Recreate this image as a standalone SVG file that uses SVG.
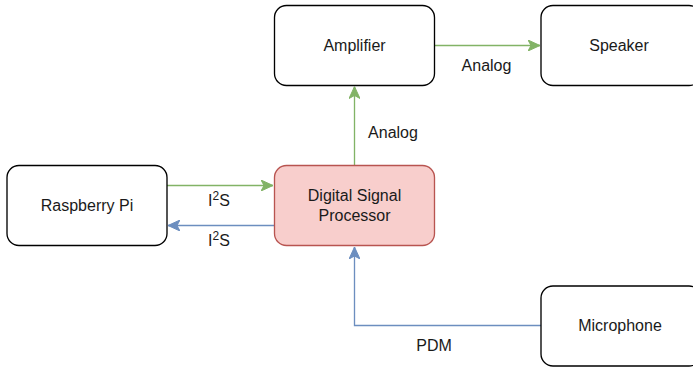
<svg xmlns="http://www.w3.org/2000/svg" width="693" height="367" viewBox="0 0 693 367">
  <style>
    .box { fill: #ffffff; stroke: #000000; stroke-width: 1.33; }
    .dsp { fill: #f8cecc; stroke: #b85450; stroke-width: 1.33; }
    .lbl { font-family: "Liberation Sans", Arial, sans-serif; font-size: 16px; fill: #1a1a1a; text-anchor: middle; }
    .g { fill: none; stroke: #82b366; stroke-width: 1.33; }
    .b { fill: none; stroke: #6c8ebf; stroke-width: 1.33; }
  </style>
  <defs>
    <marker id="ag" viewBox="0 0 12 11" refX="12" refY="5.5" markerWidth="12" markerHeight="11" markerUnits="userSpaceOnUse" orient="auto">
      <path d="M0,0 L12,5.5 L0,11 L3,5.5 Z" fill="#82b366" stroke="#82b366" stroke-width="1"/>
    </marker>
    <marker id="ab" viewBox="0 0 12 11" refX="12" refY="5.5" markerWidth="12" markerHeight="11" markerUnits="userSpaceOnUse" orient="auto">
      <path d="M0,0 L12,5.5 L0,11 L3,5.5 Z" fill="#6c8ebf" stroke="#6c8ebf" stroke-width="1"/>
    </marker>
  </defs>

  <g id="connectors">
    <line class="g" x1="167" y1="185.5" x2="273" y2="185.5" marker-end="url(#ag)"/>
    <line class="b" x1="274" y1="225.5" x2="168" y2="225.5" marker-end="url(#ab)"/>
    <line class="g" x1="354.5" y1="165.5" x2="354.5" y2="86.5" marker-end="url(#ag)"/>
    <line class="g" x1="434.5" y1="45.5" x2="540" y2="45.5" marker-end="url(#ag)"/>
    <polyline class="b" points="541,325.5 354.5,325.5 354.5,247" marker-end="url(#ab)"/>
    <text class="lbl" x="219" y="206">I<tspan font-size="12" dy="-6">2</tspan><tspan dy="6">S</tspan></text>
    <text class="lbl" x="219" y="246">I<tspan font-size="12" dy="-6">2</tspan><tspan dy="6">S</tspan></text>
    <text class="lbl" x="393" y="138">Analog</text>
    <text class="lbl" x="486.5" y="71">Analog</text>
    <text class="lbl" x="434" y="351">PDM</text>
  </g>

  <g id="raspberry-pi">
    <rect class="box" x="7" y="165.5" width="160" height="80" rx="12" ry="12"/>
    <text class="lbl" x="87" y="211">Raspberry Pi</text>
  </g>
  <g id="dsp">
    <rect class="dsp" x="274.5" y="165.5" width="160" height="80" rx="12" ry="12"/>
    <text class="lbl" x="354.5" y="201">Digital Signal</text>
    <text class="lbl" x="354.5" y="221">Processor</text>
  </g>
  <g id="amplifier">
    <rect class="box" x="274.5" y="5.5" width="160" height="80" rx="12" ry="12"/>
    <text class="lbl" x="354.5" y="51">Amplifier</text>
  </g>
  <g id="speaker">
    <rect class="box" x="541" y="5.5" width="160" height="80" rx="12" ry="12"/>
    <text class="lbl" x="619" y="51">Speaker</text>
  </g>
  <g id="microphone">
    <rect class="box" x="541" y="286" width="160" height="80" rx="12" ry="12"/>
    <text class="lbl" x="620" y="331">Microphone</text>
  </g>
</svg>
